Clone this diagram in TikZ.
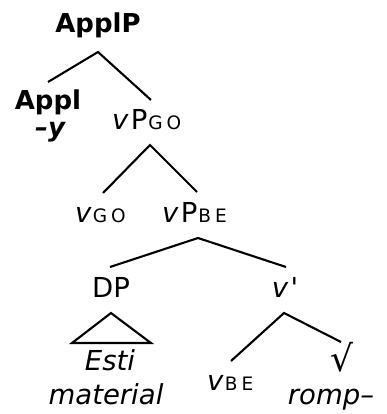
\documentclass[tikz,border=0pt]{standalone}
\usepackage{fontspec}
\setmainfont{DejaVu Sans}
\newcommand\subsc[2]{{\fontsize{18.5}{19}\selectfont\hspace{1pt}#1\hspace{4pt}#2}}
\newcommand\vv{\textit{v}\hspace{2pt}}
\begin{document}
\begin{tikzpicture}[x=1pt,y=-1pt,
  lbl/.style={anchor=base,inner sep=0pt,font=\fontsize{27.5}{29}\selectfont},
  branch/.style={line width=2.1pt},
  tri/.style={line width=2.1pt,line join=miter}]
\useasboundingbox (0,0) rectangle (387,414);
% labels
\node[lbl,font=\fontsize{26}{28}\selectfont\bfseries] (applp) at (98,33) {ApplP};
\node[lbl,font=\fontsize{26}{28}\selectfont\bfseries] (appl) at (48,110) {Appl};
\node[lbl,font=\fontsize{26}{28}\selectfont\bfseries\itshape] (affix) at (50,136) {–y};
\node[lbl,anchor=base west] (vpgo) at (112,130) {\vv P\subsc{G}{O}};
\node[lbl,anchor=base west] (vgo) at (75,222) {\textit{v}\subsc{G}{O}};
\node[lbl,anchor=base west] (vpbe) at (162,222) {\vv P\subsc{B}{E}};
\node[lbl] (dp) at (111,297) {DP};
\node[lbl] (vbar) at (285,297) {\textit{v}\hspace{2pt}\textquotesingle};
\node[lbl,font=\fontsize{27.5}{29}\selectfont\itshape] (esti) at (110,370) {Esti};
\node[lbl,font=\fontsize{27.5}{29}\selectfont\itshape] (mat) at (106,404) {material};
\node[lbl,anchor=base west] (vbe) at (207,390) {\textit{v}\subsc{B}{E}};
\node[lbl,font=\fontsize{36}{38}\selectfont] (root) at (342,371) {√};
\node[lbl,font=\fontsize{27.5}{29}\selectfont\itshape] (romp) at (331,404) {romp–};
% branch points
\coordinate (t1) at (98,52);
\coordinate (l1) at (48,82);
\coordinate (r1) at (151,100);
\coordinate (t2) at (150,145);
\coordinate (l2) at (103,193);
\coordinate (r2) at (197,192);
\coordinate (t3) at (198,238);
\coordinate (l3) at (110,267);
\coordinate (r3) at (286,267);
\coordinate (t4) at (284,313);
\coordinate (l4) at (231,361);
\coordinate (r4) at (341,342);
\coordinate (ta) at (111,313);
\coordinate (tl) at (72,343);
\coordinate (tr) at (151,343);
% branches
\draw[branch] (l1) -- (t1) -- (r1);
\draw[branch] (l2) -- (t2) -- (r2);
\draw[branch] (l3) -- (t3) -- (r3);
\draw[branch] (l4) -- (t4) -- (r4);
\draw[tri] (ta) -- (tl) -- (tr) -- cycle;
\end{tikzpicture}
\end{document}
